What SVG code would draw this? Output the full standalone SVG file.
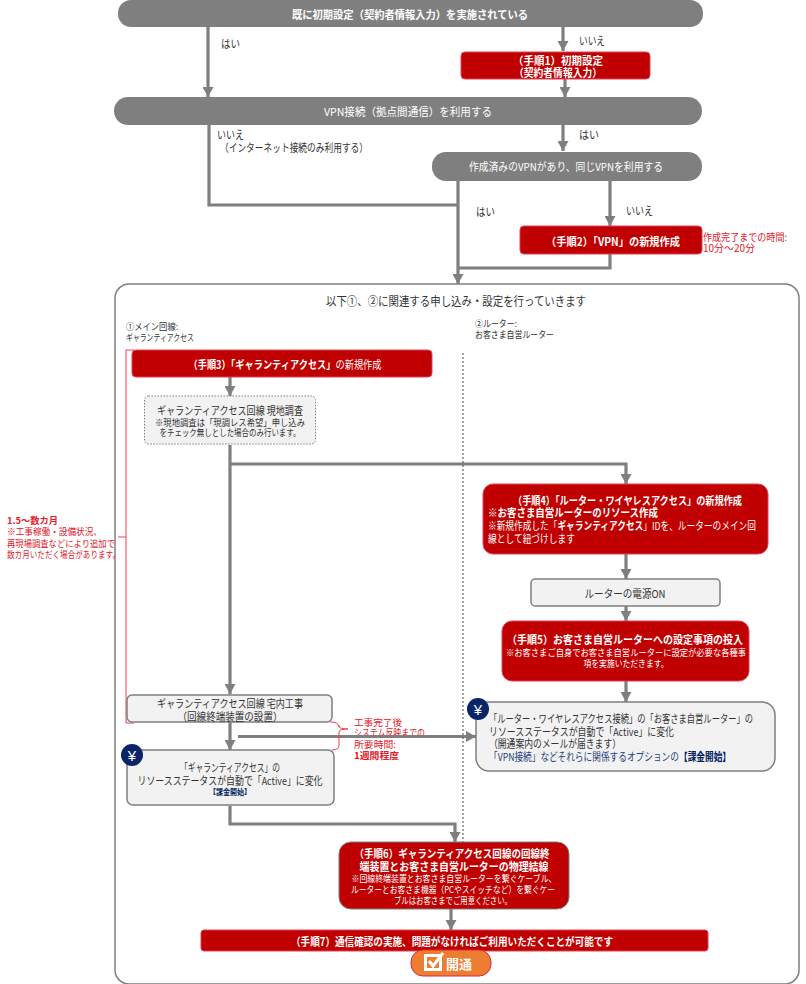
<svg xmlns="http://www.w3.org/2000/svg" width="806" height="984" viewBox="0 0 806 984">
<style>
text{font-family:"Noto Sans CJK JP","Noto Sans",sans-serif;font-size:11px;fill:#333;dominant-baseline:central}
.m{text-anchor:middle}
.w{fill:#fff}
.b{font-weight:700}
.s{font-size:9.500px}
.r{fill:#e0202a}
.red{fill:#c00000;stroke:#e0405a;stroke-width:1}
.pill{fill:#7f7f7f}
.box{fill:#f2f2f2;stroke:#7f7f7f;stroke-width:1.5}
.c{fill:none;stroke:#7f7f7f;stroke-width:3.2}
.br{fill:none;stroke:#f0404a;stroke-width:1}
.yen{font-family:"Liberation Sans",sans-serif;font-size:15px}
</style>
<defs>
<marker id="a" markerUnits="userSpaceOnUse" markerWidth="12" markerHeight="11" refX="10" refY="5.500" orient="auto"><path d="M0 0L10 5.500L0 11Z" fill="#7f7f7f"/></marker>
</defs>
<rect id="container" x="115" y="284" width="684" height="700" rx="14" fill="#fff" stroke="#7f7f7f" stroke-width="1.500"/>
<g id="notes">
<text class="r s" x="354" y="722" textLength="48" lengthAdjust="spacingAndGlyphs">工事完了後</text>
<text class="r s" x="354" y="732" textLength="71" lengthAdjust="spacingAndGlyphs">システム反映までの</text>
<text class="r s" x="354" y="744" textLength="42" lengthAdjust="spacingAndGlyphs">所要時間:</text>
<text class="r s b" x="354" y="755" textLength="45" lengthAdjust="spacingAndGlyphs">1週間程度</text>
</g>
<g id="connectors">
<path class="c" marker-end="url(#a)" d="M208 27V97"/>
<path class="c" marker-end="url(#a)" d="M563 27V51"/>
<path class="c" marker-end="url(#a)" d="M565 79V97"/>
<path class="c" marker-end="url(#a)" d="M563 125V151"/>
<path class="c" d="M209 125V205H458"/>
<path class="c" marker-end="url(#a)" d="M458 181V284"/>
<path class="c" marker-end="url(#a)" d="M610 181V226"/>
<path class="c" d="M610 254V268H458"/>
<path class="c" marker-end="url(#a)" d="M230 377V396"/>
<path class="c" marker-end="url(#a)" d="M230 445V694"/>
<path class="c" marker-end="url(#a)" d="M230 464H626V484"/>
<path class="c" marker-end="url(#a)" d="M626 554V579"/>
<path class="c" marker-end="url(#a)" d="M626 606V621"/>
<path class="c" marker-end="url(#a)" d="M626 681V702"/>
<path class="c" marker-end="url(#a)" d="M230 722V750"/>
<path class="c" marker-end="url(#a)" d="M238 736.500H476"/>
<path class="c" marker-end="url(#a)" d="M230 806V824H455V842"/>
<path class="c" marker-end="url(#a)" d="M451 909V930"/>
<path d="M463 353V842" fill="none" stroke="#444" stroke-width="1" stroke-dasharray="2 2"/>
</g>
<g id="brackets">
<path class="br" d="M134 350H126V723H134M126 537H118"/>
<path class="br" d="M330 722Q339 722 339 727V726Q339 729 348 729Q339 729 339 732V745Q339 750 332 750"/>
</g>
<g id="n1"><rect class="pill" x="118" y="0" width="585" height="27" rx="13"/><text class="m w b" x="410" y="14" textLength="236" lengthAdjust="spacingAndGlyphs">既に初期設定（契約者情報入力）を実施されている</text></g>
<text x="221" y="43" textLength="19" lengthAdjust="spacingAndGlyphs">はい</text>
<text x="579" y="40" textLength="26" lengthAdjust="spacingAndGlyphs">いいえ</text>
<g id="s1"><rect class="red" x="461" y="52" width="189" height="27" rx="4"/><text class="m w b" x="558" y="59.500" textLength="90" lengthAdjust="spacingAndGlyphs">（手順1）初期設定</text><text class="m w b" x="558" y="72" textLength="88" lengthAdjust="spacingAndGlyphs">（契約者情報入力）</text></g>
<g id="n2"><rect class="pill" x="114" y="97" width="588" height="28" rx="14"/><text class="m w" x="408" y="111" textLength="168" lengthAdjust="spacingAndGlyphs">VPN接続（拠点間通信）を利用する</text></g>
<text x="217" y="134" textLength="27" lengthAdjust="spacingAndGlyphs">いいえ</text>
<text x="220" y="147" textLength="148" lengthAdjust="spacingAndGlyphs">（インターネット接続のみ利用する）</text>
<text x="579" y="134" textLength="20" lengthAdjust="spacingAndGlyphs">はい</text>
<g id="n3"><rect class="pill" x="432" y="152" width="270" height="29" rx="14"/><text class="m w" x="566" y="166" textLength="194" lengthAdjust="spacingAndGlyphs">作成済みのVPNがあり、同じVPNを利用する</text></g>
<text x="476" y="211" textLength="19" lengthAdjust="spacingAndGlyphs">はい</text>
<text x="626" y="210" textLength="27" lengthAdjust="spacingAndGlyphs">いいえ</text>
<g id="s2"><rect class="red" x="520" y="226" width="182" height="28" rx="4"/><text class="m w b" x="613" y="241" textLength="134" lengthAdjust="spacingAndGlyphs">（手順2）「VPN」の新規作成</text></g>
<text class="r" x="703" y="236" style="font-size:10px" textLength="84" lengthAdjust="spacingAndGlyphs">作成完了までの時間:</text>
<text class="r" x="703" y="247" style="font-size:10px" textLength="52" lengthAdjust="spacingAndGlyphs">10分～20分</text>
<text class="m" x="456" y="300" style="font-size:12px" textLength="260" lengthAdjust="spacingAndGlyphs">以下①、②に関連する申し込み・設定を行っていきます</text>
<text class="s" x="126" y="326" textLength="52" lengthAdjust="spacingAndGlyphs">①メイン回線:</text>
<text class="s" x="126" y="337" textLength="68" lengthAdjust="spacingAndGlyphs">ギャランティアクセス</text>
<text class="s" x="475" y="323" textLength="42" lengthAdjust="spacingAndGlyphs">②ルーター:</text>
<text class="s" x="475" y="334" textLength="79" lengthAdjust="spacingAndGlyphs">お客さま自営ルーター</text>
<g id="s3"><rect class="red" x="132" y="350" width="300" height="27" rx="4"/><text class="m w" x="285" y="364" textLength="193" lengthAdjust="spacingAndGlyphs"><tspan class="b">（手順3）「ギャランティアクセス」</tspan>の新規作成</text></g>
<g id="survey"><rect x="144.500" y="396" width="171" height="48" rx="4" fill="#f2f2f2" stroke="#7f7f7f" stroke-dasharray="1.500 1.500"/><text class="m" x="230" y="410" textLength="146" lengthAdjust="spacingAndGlyphs">ギャランティアクセス回線 現地調査</text><text class="m s" x="230" y="422" textLength="150" lengthAdjust="spacingAndGlyphs">※現地調査は「現調レス希望」申し込み</text><text class="m s" x="230" y="432" textLength="141" lengthAdjust="spacingAndGlyphs">をチェック無しとした場合のみ行います。</text></g>
<text class="r b" x="7" y="520" style="font-size:9px" textLength="51" lengthAdjust="spacingAndGlyphs">1.5～数カ月</text>
<text class="r s" x="7" y="531" textLength="95" lengthAdjust="spacingAndGlyphs">※工事稼働・設備状況、</text>
<text class="r s" x="7" y="543" textLength="108" lengthAdjust="spacingAndGlyphs">再現場調査などにより追加で</text>
<text class="r s" x="7" y="554" textLength="113" lengthAdjust="spacingAndGlyphs">数カ月いただく場合があります。</text>
<g id="s4"><rect class="red" x="483" y="484" width="285" height="70" rx="10"/>
<text class="w b" x="513" y="500" textLength="229" lengthAdjust="spacingAndGlyphs">（手順4）「ルーター・ワイヤレスアクセス」の新規作成</text>
<text class="w b" x="488" y="512" textLength="170" lengthAdjust="spacingAndGlyphs">※お客さま自営ルーターのリソース作成</text>
<text class="w" x="488" y="525" textLength="268" lengthAdjust="spacingAndGlyphs">※新規作成した「<tspan class="b">ギャランティアクセス</tspan>」IDを、ルーターのメイン回</text>
<text class="w" x="488" y="538" textLength="87" lengthAdjust="spacingAndGlyphs">線として紐づけします</text></g>
<g id="power"><rect class="box" x="531" y="579" width="189" height="27" rx="4"/><text class="m" x="625" y="593" textLength="81" lengthAdjust="spacingAndGlyphs">ルーターの電源ON</text></g>
<g id="s5"><rect class="red" x="502" y="621" width="247" height="60" rx="10"/><text class="m w b" x="625" y="639" textLength="236" lengthAdjust="spacingAndGlyphs">（手順5）お客さま自営ルーターへの設定事項の投入</text><text class="m w s" x="626" y="652" textLength="240" lengthAdjust="spacingAndGlyphs">※お客さまご自身でお客さま自営ルーターに設定が必要な各種事</text><text class="m w s" x="626" y="663" textLength="85" lengthAdjust="spacingAndGlyphs">項を実施いただきます。</text></g>
<g id="work"><rect class="box" x="127" y="695" width="205" height="27" rx="5"/><text class="m" x="230" y="703" textLength="146" lengthAdjust="spacingAndGlyphs">ギャランティアクセス回線 宅内工事</text><text class="m" x="230" y="716" textLength="105" lengthAdjust="spacingAndGlyphs">（回線終端装置の設置）</text></g>
<g id="active1"><rect class="box" x="127" y="750" width="207" height="55" rx="6"/><text class="m" x="230" y="767" textLength="100" lengthAdjust="spacingAndGlyphs">「ギャランティアクセス」の</text><text class="m" x="230" y="780" textLength="185" lengthAdjust="spacingAndGlyphs">リソースステータスが自動で「Active」に変化</text><text class="m b" x="230" y="791" style="font-size:7.500px;fill:#002060" textLength="42" lengthAdjust="spacingAndGlyphs">【課金開始】</text>
<circle cx="132" cy="755" r="11" fill="#0b2468"/><text class="m w yen" x="132" y="755">¥</text></g>
<g id="active2"><rect class="box" x="476" y="702" width="299" height="69" rx="13"/>
<text x="489" y="718" textLength="264" lengthAdjust="spacingAndGlyphs">「ルーター・ワイヤレスアクセス接続」の「お客さま自営ルーター」の</text>
<text x="489" y="731" textLength="185" lengthAdjust="spacingAndGlyphs">リソースステータスが自動で「Active」に変化</text>
<text x="489" y="743" textLength="132" lengthAdjust="spacingAndGlyphs">（開通案内のメールが届きます）</text>
<text x="489" y="756" style="fill:#1f3f80" textLength="242" lengthAdjust="spacingAndGlyphs">「VPN接続」などそれらに関係するオプションの<tspan class="b" style="fill:#002060">【課金開始】</tspan></text>
<circle cx="478" cy="709" r="11" fill="#0b2468"/><text class="m w yen" x="478" y="709">¥</text></g>
<g id="s6"><rect x="339" y="842" width="230" height="67" rx="12" fill="#c00000" stroke="#7f7f7f" stroke-width="1"/>
<text class="m w b" x="452" y="853" textLength="195" lengthAdjust="spacingAndGlyphs">（手順6）ギャランティアクセス回線の回線終</text>
<text class="m w b" x="454" y="866" textLength="189" lengthAdjust="spacingAndGlyphs">端装置とお客さま自営ルーターの物理結線</text>
<text class="m w s" x="454" y="878" textLength="205" lengthAdjust="spacingAndGlyphs">※回線終端装置とお客さま自営ルーターを繋ぐケーブル、</text>
<text class="m w s" x="453" y="889" textLength="204" lengthAdjust="spacingAndGlyphs">ルーターとお客さま機器（PCやスイッチなど）を繋ぐケー</text>
<text class="m w s" x="453" y="900" textLength="118" lengthAdjust="spacingAndGlyphs">ブルはお客さまでご用意ください。</text></g>
<g id="s7"><rect class="red" x="201" y="930" width="507" height="21" rx="3"/><text class="m w b" x="452" y="941" textLength="322" lengthAdjust="spacingAndGlyphs">（手順7）通信確認の実施、問題がなければご利用いただくことが可能です</text></g>
<g id="open"><rect x="411" y="950" width="80" height="26" rx="12" fill="#ed7d31" stroke="#d9284a" stroke-width="1"/>
<rect x="424" y="954" width="18" height="17" fill="#fff"/><rect x="427" y="957" width="12" height="11" fill="#ed7d31"/><path d="M429 961L433 966L443 953" fill="none" stroke="#fff" stroke-width="3"/>
<text class="w b" x="446" y="963" style="font-size:13px">開通</text></g>
</svg>
